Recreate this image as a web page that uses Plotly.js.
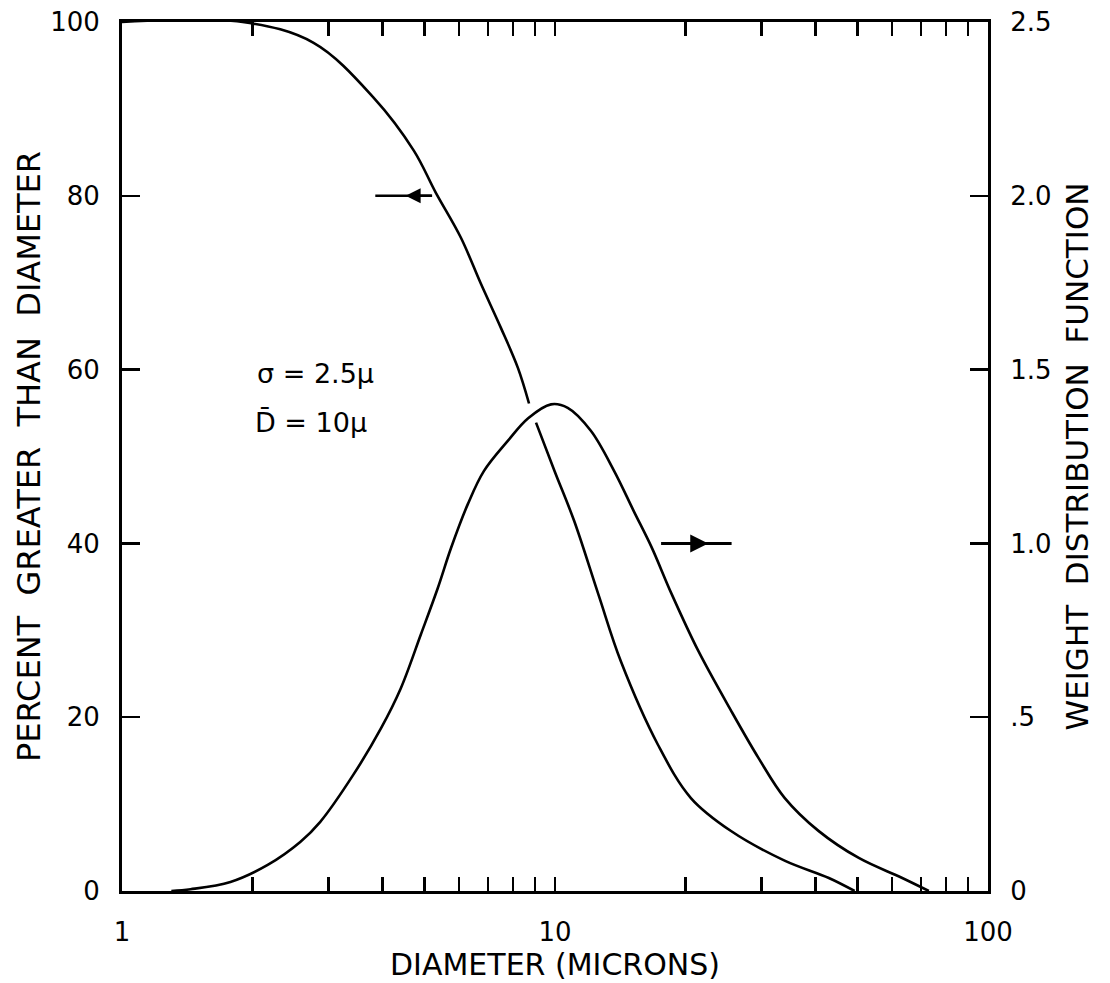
<!DOCTYPE html>
<html>
<head>
<meta charset="utf-8">
<script src="https://cdn.plot.ly/plotly-3.0.1.min.js"></script>
<style>html,body{margin:0;padding:0;background:#fff;}#chart{width:1110px;height:983px;}</style>
</head>
<body>
<div id="chart"></div>
<script>
// Cumulative: percent greater than diameter (left axis); null = pen lift where curves cross
const cumDiameter = [1, 1.9, 2.77, 3.81, 4.72, 5.30, 6.06, 6.74, 7.50, 8.21, 8.71, null, 9.04, 9.98, 11.07, 12.6, 14.2, 17.3, 20.6, 25.5, 33.9, 42.9, 49.2];
const cumPercent  = [100, 100, 97.6, 91.3, 85.2, 80.4, 75.2, 69.9, 64.8, 60.2, 56.1, null, 53.9, 48.3, 42.6, 34.1, 26.4, 16.8, 10.7, 6.9, 3.5, 1.5, 0];

// Weight distribution function (right axis)
const wDiameter = [1.3, 1.44, 1.78, 2.17, 2.58, 2.87, 3.42, 3.96, 4.40, 4.90, 5.36, 5.75, 6.29, 6.85, 7.78, 8.67, 9.79, 10.7, 12.1, 13.7, 15.2, 16.7, 18.6, 21.4, 25.5, 29.5, 33.9, 40.6, 50.3, 63.2, 73];
const wValue    = [0, 0.005, 0.026, 0.075, 0.141, 0.199, 0.334, 0.467, 0.582, 0.738, 0.871, 0.986, 1.113, 1.208, 1.295, 1.36, 1.40, 1.39, 1.324, 1.208, 1.093, 0.99, 0.854, 0.692, 0.519, 0.383, 0.268, 0.173, 0.095, 0.038, 0];

// Tick labels
const xTickVals = [1,2,3,4,5,6,7,8,9,10,20,30,40,50,60,70,80,90,100];
const xTickText = xTickVals.map(v => (v === 1 || v === 10 || v === 100) ? String(v) : '');
const yLeftTicks = [0, 20, 40, 60, 80, 100];
const yRightTicks = [0, 0.5, 1.0, 1.5, 2.0, 2.5];
const yRightText = ['0', '.5', '1.0', '1.5', '2.0', '2.5'];

const FONT = 'DejaVu Sans, Liberation Sans, sans-serif';
const ink = '#000';

const traces = [
  {x: cumDiameter, y: cumPercent, xaxis: 'x', yaxis: 'y', mode: 'lines',
   line: {color: ink, width: 2.6, shape: 'spline', smoothing: 1}, connectgaps: false, hoverinfo: 'skip', showlegend: false},
  {x: wDiameter, y: wValue, xaxis: 'x', yaxis: 'y2', mode: 'lines',
   line: {color: ink, width: 2.6, shape: 'spline', smoothing: 1}, hoverinfo: 'skip', showlegend: false}
];

const layout = {
  width: 1110, height: 983,
  margin: {l: 122, r: 122, t: 22, b: 92},
  paper_bgcolor: '#fff', plot_bgcolor: '#fff',
  font: {family: FONT, color: ink, size: 24},
  xaxis: {
    type: 'log', range: [0, 2], tickmode: 'array', tickvals: xTickVals, ticktext: xTickText,
    ticks: 'inside', ticklen: 14, tickwidth: 2.5, tickcolor: ink,
    showline: true, linewidth: 3, linecolor: ink, mirror: 'ticks',
    showgrid: false, zeroline: false, ticklabelstandoff: 16,
    tickfont: {size: 26, family: FONT},
    title: {text: 'DIAMETER (MICRONS)', font: {size: 30, family: FONT}, standoff: 8}
  },
  xaxis2: {
    type: 'log', range: [0, 2], overlaying: 'x', anchor: 'y', side: 'bottom',
    tickmode: 'array', tickvals: [10], ticks: 'inside', ticklen: 26, tickwidth: 3, tickcolor: ink,
    mirror: 'ticks', showline: false, showticklabels: false, showgrid: false, zeroline: false
  },
  yaxis: {
    range: [0, 100], tickmode: 'array', tickvals: yLeftTicks,
    ticks: 'inside', ticklen: 18, tickwidth: 2.5, tickcolor: ink,
    showline: true, linewidth: 3, linecolor: ink, showgrid: false, zeroline: false,
    ticklabelstandoff: 14, tickfont: {size: 26, family: FONT},
    title: {text: 'PERCENT  GREATER  THAN  DIAMETER', font: {size: 32, family: FONT}, standoff: 0}
  },
  yaxis2: {
    range: [0, 2.5], overlaying: 'y', side: 'right', anchor: 'x', tickmode: 'array',
    tickvals: yRightTicks, ticktext: yRightText,
    ticks: 'inside', ticklen: 18, tickwidth: 2.5, tickcolor: ink,
    showline: true, linewidth: 3, linecolor: ink, showgrid: false, zeroline: false,
    ticklabelstandoff: 14, tickfont: {size: 26, family: FONT},
    title: {text: 'WEIGHT  DISTRIBUTION  FUNCTION', font: {size: 31, family: FONT}, standoff: 16}
  },
  annotations: [
    {xref: 'x', yref: 'y', x: 0.447, y: 59.5, text: 'σ = 2.5μ', showarrow: false, font: {size: 27, family: FONT}},
    {xref: 'x', yref: 'y', x: 0.4375, y: 53.9, text: 'D̄ = 10μ', showarrow: false, font: {size: 27, family: FONT}},
    // left-pointing arrow at 80 %
    {xref: 'x', yref: 'y', x: 0.585, y: 80, ax: 58, ay: 0, text: '', showarrow: true, arrowhead: 0, arrowwidth: 2.5, arrowcolor: ink},
    {xref: 'x', yref: 'y', x: 0.655, y: 80, ax: 28, ay: 0, text: '', showarrow: true, arrowhead: 2, arrowsize: 1.2, arrowwidth: 2.5, arrowcolor: ink},
    // right-pointing arrow at 1.0
    {xref: 'x', yref: 'y2', x: 1.245, y: 1.0, ax: 72, ay: 0, text: '', showarrow: true, arrowhead: 0, arrowwidth: 3, arrowcolor: ink},
    {xref: 'x', yref: 'y2', x: 1.354, y: 1.0, ax: -47, ay: 0, text: '', showarrow: true, arrowhead: 2, arrowsize: 1.2, arrowwidth: 3, arrowcolor: ink}
  ]
};

Plotly.newPlot('chart', traces, layout, {staticPlot: true, displayModeBar: false});
</script>
</body>
</html>
